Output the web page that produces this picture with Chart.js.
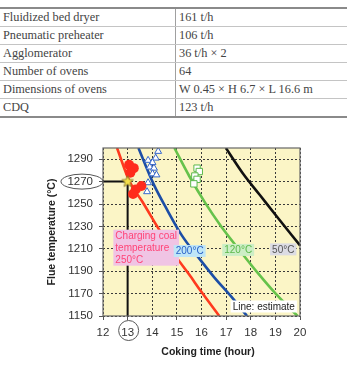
<!DOCTYPE html>
<html>
<head>
<meta charset="utf-8">
<script src="https://cdn.jsdelivr.net/npm/chart.js@4"></script>
<style>
  body { margin: 0; background: #fff; width: 350px; height: 365px; position: relative; overflow: hidden; }
  #spec { position: absolute; top: 7px; left: 0; width: 347px; border-collapse: collapse;
          font-family: "Liberation Serif", "Times New Roman", serif; font-size: 12.3px; color: #444; }
  #spec td { height: 17px; padding: 0 0 0 3px; border-bottom: 1px solid #c4c4c4; line-height: 17px; }
  #spec tr:first-child td { border-top: 2px solid #8a8a8a; }
  #spec tr:last-child td { border-bottom: 2px solid #8a8a8a; }
  #spec td:first-child { width: 172px; border-right: 1px solid #a0a0a0; }
  #wrap { position: absolute; left: 0; top: 120px; width: 350px; height: 245px; }
</style>
</head>
<body>
<table id="spec"></table>
<div id="wrap"><canvas id="chart" width="350" height="245"></canvas></div>
<script>
const specItems = ['Fluidized bed dryer', 'Pneumatic preheater', 'Agglomerator', 'Number of ovens', 'Dimensions of ovens', 'CDQ'];
const specValues = ['161 t/h', '106 t/h', '36 t/h × 2', '64', 'W 0.45 × H 6.7 × L 16.6 m', '123 t/h'];

const hourTicks = [12, 13, 14, 15, 16, 17, 18, 19, 20];
const tempTicks = [1150, 1170, 1190, 1210, 1230, 1250, 1270, 1290];

// estimated lines (charging coal temperature)
const red250Hours = [12.57, 13.08, 13.6, 14.2, 14.9, 15.5, 15.98, 16.72];
const red250Temps = [1300, 1270, 1252, 1230, 1205, 1187, 1172, 1150];
const blue200Hours = [13.44, 14.05, 14.6, 15.2, 15.85, 16.5, 17.22, 17.85];
const blue200Temps = [1300, 1268, 1245, 1222, 1203, 1185, 1167, 1150];
const green120Hours = [14.9, 15.5, 16.15, 16.8, 17.5, 18.3, 19.05, 19.9];
const green120Temps = [1300, 1275, 1251, 1230, 1210, 1188, 1169, 1150];
const black50Hours = [16.99, 17.69, 18.37, 19.05, 20.0];
const black50Temps = [1300, 1277, 1258, 1239, 1213];

// measured points
const redPtHours = [13.06, 13.25, 13.11, 13.56, 13.33, 13.22];
const redPtTemps = [1285, 1282, 1278, 1266, 1263, 1259];
const bluePtHours = [14.24, 14.14, 13.83, 14.01, 13.9, 14.07, 14.01, 14.17, 13.83, 13.79];
const bluePtTemps = [1297, 1291, 1289, 1287, 1283, 1282, 1277, 1276, 1269, 1261];
const greenPtHours = [15.82, 15.91, 15.73, 15.82, 15.69];
const greenPtTemps = [1282, 1279, 1275, 1272, 1268];

const targetHours = [13];
const targetTemps = [1270];
const guideHours = [12, 13, 13];
const guideTemps = [1270, 1270, 1150];

const pts = (xs, ys) => xs.map((x, i) => ({ x, y: ys[i] }));

const tbody = document.getElementById('spec');
specItems.forEach((item, i) => {
  const tr = document.createElement('tr');
  tr.innerHTML = '<td>' + item + '</td><td>' + specValues[i] + '</td>';
  tbody.appendChild(tr);
});

function makeStar(r) {
  const c = document.createElement('canvas');
  c.width = c.height = 2 * r + 2;
  const g = c.getContext('2d');
  g.beginPath();
  for (let i = 0; i < 10; i++) {
    const a = -Math.PI / 2 + i * Math.PI / 5;
    const rr = i % 2 ? r * 0.45 : r;
    g.lineTo(r + 1 + rr * Math.cos(a), r + 1 + rr * Math.sin(a));
  }
  g.closePath();
  g.fillStyle = '#f4e04a';
  g.fill();
  g.strokeStyle = '#7d6d22';
  g.lineWidth = 0.8;
  g.stroke();
  return c;
}

const sans = 'Arial, "Liberation Sans", sans-serif';

function box(ctx, lines, cx, cy, bg, fg, align) {
  ctx.font = '10px ' + sans;
  const lh = 12;
  const w = Math.max(...lines.map(l => ctx.measureText(l).width)) + 4;
  const h = lines.length * lh;
  const left = align === 'left' ? cx : cx - w / 2;
  ctx.fillStyle = bg;
  ctx.fillRect(left, cy - h / 2, w, h);
  ctx.fillStyle = fg;
  ctx.textBaseline = 'middle';
  ctx.textAlign = 'left';
  lines.forEach((l, i) => ctx.fillText(l, left + 2, cy - h / 2 + lh * i + lh / 2 + 0.5));
}

const decor = {
  id: 'decor',
  beforeDraw(chart) {
    const { ctx, chartArea: a } = chart;
    ctx.save();
    ctx.fillStyle = '#fbf5c6';
    ctx.fillRect(a.left, a.top, a.right - a.left, a.bottom - a.top);
    ctx.restore();
  },
  afterDatasetsDraw(chart) {
    const { ctx, chartArea: a, scales: { x, y } } = chart;
    ctx.save();
    box(ctx, ['Charging coal', 'temperature', '250\u00b0C'], x.getPixelForValue(12.42), y.getPixelForValue(1211), '#f0c4e4', '#ff4477', 'left');
    box(ctx, ['200\u00b0C'], x.getPixelForValue(15.52), y.getPixelForValue(1208), '#bfe6f7', '#2a62c8');
    box(ctx, ['120\u00b0C'], x.getPixelForValue(17.49), y.getPixelForValue(1209), '#cdeec6', '#5bb84a');
    box(ctx, ['50\u00b0C'], x.getPixelForValue(19.32), y.getPixelForValue(1209.5), '#dcdce4', '#555');
    box(ctx, ['Line: estimate'], x.getPixelForValue(18.53), y.getPixelForValue(1158.5), '#ffffff', '#222');
    ctx.strokeStyle = '#666';
    ctx.lineWidth = 1.2;
    ctx.strokeRect(a.left, a.top, a.right - a.left, a.bottom - a.top);
    // circled tick labels
    ctx.lineWidth = 1;
    ctx.strokeStyle = '#555';
    ctx.beginPath();
    ctx.ellipse(a.left - 21, y.getPixelForValue(1270), 21, 7.5, 0, 0, Math.PI * 2);
    ctx.stroke();
    ctx.beginPath();
    ctx.arc(x.getPixelForValue(13) + 1, a.bottom + 14.5, 10, 0, Math.PI * 2);
    ctx.stroke();
    // x axis title
    ctx.fillStyle = '#222';
    ctx.font = 'bold 10.5px ' + sans;
    ctx.textAlign = 'center';
    ctx.textBaseline = 'middle';
    ctx.fillText('Coking time (hour)', (a.left + a.right) / 2 + 6.5, a.bottom + 36);
    ctx.restore();
  }
};

const curve = (xs, ys, color) => ({
  data: pts(xs, ys), showLine: true, borderColor: color, borderWidth: 2.6,
  pointRadius: 0, cubicInterpolationMode: 'monotone', order: 3
});

new Chart(document.getElementById('chart'), {
  type: 'scatter',
  data: {
    datasets: [
      { data: pts(guideHours, guideTemps), showLine: true, borderColor: '#111', borderWidth: 2,
        pointRadius: 0, order: 4 },
      curve(red250Hours, red250Temps, '#ff3a1e'),
      curve(blue200Hours, blue200Temps, '#1c4ea6'),
      curve(green120Hours, green120Temps, '#66c24b'),
      curve(black50Hours, black50Temps, '#111111'),
      { data: pts(redPtHours, redPtTemps), pointStyle: 'circle', pointRadius: 5,
        backgroundColor: '#ff2b1c', borderWidth: 0, order: 2 },
      { data: pts(bluePtHours, bluePtTemps), pointStyle: 'triangle', pointRadius: 4,
        backgroundColor: '#ffffff', borderColor: '#3567cc', borderWidth: 1, order: 2 },
      { data: pts(greenPtHours, greenPtTemps), pointStyle: 'rect', pointRadius: 4.5,
        backgroundColor: '#ffffff', borderColor: '#5cb84c', borderWidth: 1, order: 2 },
      { data: pts(targetHours, targetTemps), pointStyle: makeStar(6), order: 1 }
    ]
  },
  options: {
    responsive: false,
    animation: false,
    devicePixelRatio: 1,
    layout: { padding: { left: 40, right: 50, top: 28, bottom: 7 } },
    plugins: { legend: { display: false }, tooltip: { enabled: false } },
    scales: {
      x: {
        type: 'linear', min: 12, max: 20,
        afterFit(s) { s.height = 42; },
        afterBuildTicks(s) { s.ticks = hourTicks.map(v => ({ value: v })); },
        grid: { color: '#3a3a3a', lineWidth: 1, tickLength: 4, tickColor: '#555' },
        border: { display: false, dash: [2, 2] },
        ticks: { padding: 6, color: '#333', font: { family: sans, size: 11.5 }, callback: v => String(v) }
      },
      y: {
        type: 'linear', min: 1150, max: 1300,
        afterFit(s) { s.width = 63; },
        afterBuildTicks(s) { s.ticks = tempTicks.map(v => ({ value: v })); },
        grid: { color: '#3a3a3a', lineWidth: 1, tickLength: 4, tickColor: '#555' },
        border: { display: false, dash: [2, 2] },
        ticks: { padding: 6, color: '#333', font: { family: sans, size: 11.5 }, callback: v => String(v) },
        title: { display: true, text: 'Flue temperature (\u00b0C)', color: '#222', padding: { top: 6, bottom: 0 },
                 font: { family: sans, size: 10.5, weight: 'bold' } }
      }
    }
  },
  plugins: [decor]
});
</script>
</body>
</html>
